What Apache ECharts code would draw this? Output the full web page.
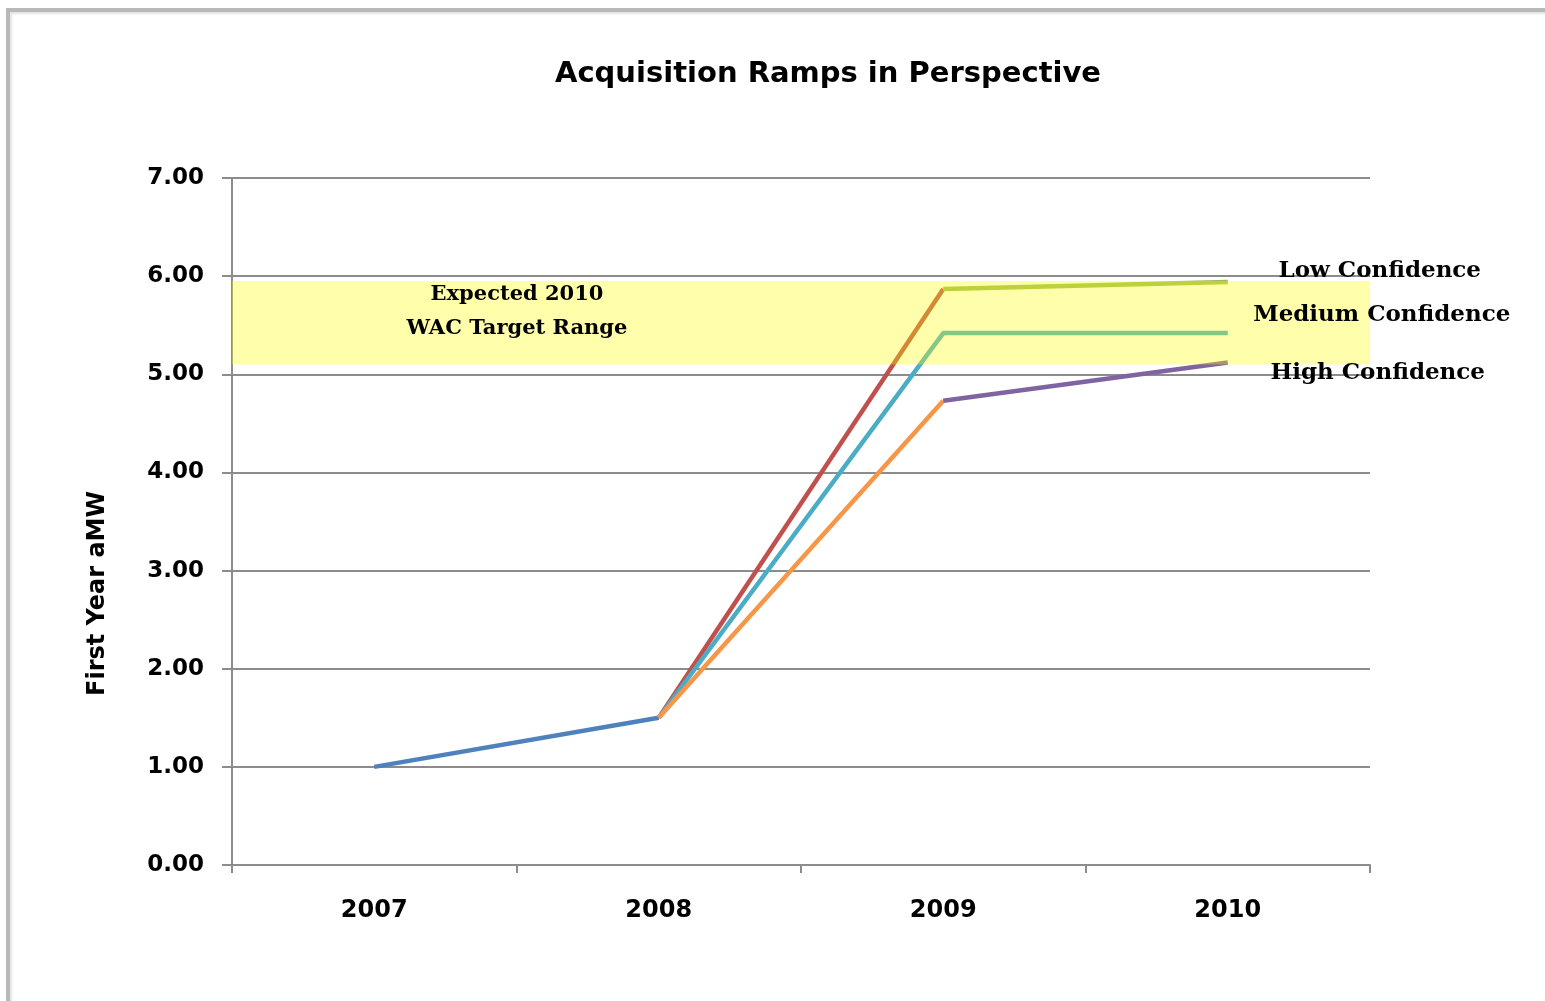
<!DOCTYPE html>
<html>
<head>
<meta charset="utf-8">
<title>Acquisition Ramps in Perspective</title>
<script src="https://cdn.jsdelivr.net/npm/echarts@6/dist/echarts.min.js"></script>
<style>
  html, body { margin: 0; padding: 0; background: #fff; }
  #chart { width: 1545px; height: 1001px; }
  #frame {
    position: absolute; left: 6px; top: 8px; right: -10px; bottom: -10px;
    border-top: 4px solid #b9b9b9; border-left: 4px solid #b9b9b9;
    box-shadow: inset 2px 2px 2px #e4e4e4;
    pointer-events: none;
  }
</style>
</head>
<body>
<div id="chart"></div>
<div id="frame"></div>
<script>
// Years on the horizontal axis
const years = ['2007', '2008', '2009', '2010'];

// First-year aMW by scenario
const history      = [1.00, 1.50, null, null];
const lowRamp      = [null, 1.50, 5.87, null];
const lowPlateau   = [null, null, 5.87, 5.94];
const mediumRamp   = [null, 1.50, 5.42, 5.42];
const highRamp     = [null, 1.50, 4.73, null];
const highPlateau  = [null, null, 4.73, 5.12];

// Expected 2010 WAC target range (aMW)
const targetRange = [5.10, 5.95];

// Scenario names written beside the 2010 end points
const scenarioNames = ['Low Confidence', 'Medium Confidence', 'High Confidence'];
const scenarioEnds  = [lowPlateau[3], mediumRamp[3], highPlateau[3]];

const yTicks = { min: 0, max: 7, step: 1 };

const numFont = 'DejaVu Sans';
const textFont = 'DejaVu Serif';

// label nudges (px) for the scenario names, kept apart from the data
const nameNudges = [[152, -11], [154, -18], [150, 11]];

function rampSeries(name, data, color) {
  return {
    name: name,
    type: 'line',
    data: data,
    symbol: 'none',
    z: 2,
    lineStyle: { color: color, width: 4.5 },
    itemStyle: { color: color }
  };
}

const chart = echarts.init(document.getElementById('chart'), null, { renderer: 'canvas' });

chart.setOption({
  backgroundColor: '#ffffff',
  animation: false,
  title: {
    text: 'Acquisition Ramps in Perspective',
    left: 823,
    top: 55,
    textAlign: 'center',
    textStyle: { fontFamily: numFont, fontWeight: 'bold', fontSize: 29, color: '#000' }
  },
  grid: { left: 232, right: 175, top: 178, bottom: 136, containLabel: false },
  xAxis: {
    type: 'category',
    data: years,
    boundaryGap: true,
    axisLine: { lineStyle: { color: '#8c8c8c', width: 2 } },
    axisTick: { show: true, interval: 0, length: 8, lineStyle: { color: '#8c8c8c', width: 2 } },
    axisLabel: { margin: 34, fontFamily: numFont, fontWeight: 'bold', fontSize: 24, color: '#000' },
    splitLine: { show: false }
  },
  yAxis: {
    type: 'value',
    min: yTicks.min,
    max: yTicks.max,
    interval: yTicks.step,
    name: 'First Year aMW',
    nameLocation: 'middle',
    nameRotate: 90,
    nameGap: 122,
    nameTextStyle: {
      fontFamily: numFont, fontWeight: 'bold', fontSize: 24, color: '#000',
      padding: [0, 144, 0, 0]
    },
    axisLine: { show: true, lineStyle: { color: '#8c8c8c', width: 2 } },
    axisTick: { show: true, inside: false, length: 10, lineStyle: { color: '#8c8c8c', width: 2 } },
    axisLabel: {
      margin: 28,
      formatter: v => v.toFixed(2),
      fontFamily: numFont, fontWeight: 'bold', fontSize: 23, color: '#000'
    },
    splitLine: { show: true, lineStyle: { color: '#8c8c8c', width: 2 } }
  },
  series: [
    rampSeries('History', history, '#4F81BD'),
    rampSeries('Low ramp', lowRamp, '#C0504D'),
    rampSeries('Low Confidence', lowPlateau, '#9BBB59'),
    rampSeries('Medium Confidence', mediumRamp, '#4BACC6'),
    rampSeries('High ramp', highRamp, '#F79646'),
    rampSeries('High Confidence', highPlateau, '#8064A2'),
    {
      // translucent target band laid over the ramps
      name: 'Target range',
      type: 'line',
      data: [],
      z: 6,
      silent: true,
      markArea: {
        silent: true,
        z: 6,
        itemStyle: { color: 'rgba(255, 255, 0, 0.33)' },
        label: {
          show: true,
          formatter: 'Expected 2010\nWAC Target Range',
          position: [285, -4],
          align: 'center',
          verticalAlign: 'top',
          lineHeight: 34,
          fontFamily: textFont,
          fontWeight: 'bold',
          fontSize: 21,
          color: '#000'
        },
        data: [[{ yAxis: targetRange[1] }, { yAxis: targetRange[0] }]]
      }
    },
    {
      // scenario names beside the 2010 end points, above the band
      name: 'Scenario names',
      type: 'line',
      data: [],
      z: 10,
      silent: true,
      markPoint: {
        silent: true,
        z: 10,
        symbol: 'circle',
        symbolSize: 0,
        itemStyle: { color: 'rgba(0,0,0,0)' },
        label: {
          show: true,
          formatter: '{b}',
          position: 'inside',
          align: 'center',
          verticalAlign: 'middle',
          fontFamily: textFont,
          fontWeight: 'bold',
          fontSize: 23,
          color: '#000'
        },
        data: scenarioNames.map((n, i) => ({
          name: n,
          coord: [years[3], scenarioEnds[i]],
          label: { offset: nameNudges[i] }
        }))
      }
    }
  ]
});
</script>
</body>
</html>
